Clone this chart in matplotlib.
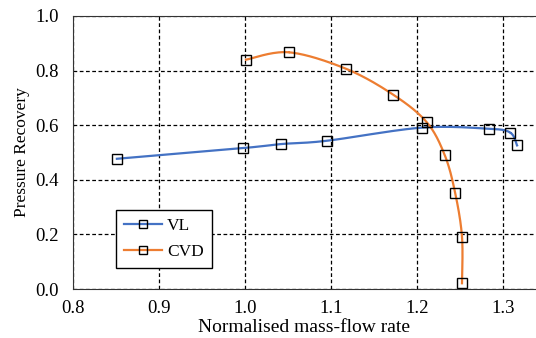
import numpy as np
import matplotlib.pyplot as plt

# data
vl_x = [0.851, 0.997, 1.042, 1.095, 1.205, 1.283, 1.308, 1.316]
vl_y = [0.477, 0.516, 0.531, 0.543, 0.591, 0.587, 0.573, 0.526]
cvd_x = [1.001, 1.051, 1.117, 1.172, 1.211, 1.232, 1.244, 1.252, 1.252]
cvd_y = [0.840, 0.867, 0.807, 0.712, 0.611, 0.490, 0.353, 0.192, 0.021]


def smooth(x, y, n=30):
    # Catmull-Rom curve through the points (like Excel's smoothed line)
    p = np.column_stack([x, y])
    p = np.vstack([p[0], p, p[-1]])
    out = []
    t = np.linspace(0, 1, n)[:, None]
    for i in range(1, len(p) - 2):
        p0, p1, p2, p3 = p[i - 1], p[i], p[i + 1], p[i + 2]
        seg = 0.5 * ((2 * p1) + (-p0 + p2) * t
                     + (2 * p0 - 5 * p1 + 4 * p2 - p3) * t ** 2
                     + (-p0 + 3 * p1 - 3 * p2 + p3) * t ** 3)
        out.append(seg)
    out = np.vstack(out)
    return out[:, 0], out[:, 1]


plt.rcParams['font.family'] = ['Liberation Serif']

fig = plt.figure(figsize=(5.36, 3.38), dpi=100)
ax = fig.add_axes([73 / 536, 49 / 338, 463 / 536, 273 / 338])

blue = '#4472C4'
orange = '#ED7D31'

sx, sy = smooth(vl_x, vl_y)
ax.plot(sx, sy, color=blue, lw=1.6)
sx, sy = smooth(cvd_x, cvd_y)
ax.plot(sx, sy, color=orange, lw=1.6)
ax.plot(vl_x, vl_y, ls='none', marker='s', ms=6.5, mfc='none', mec='black', mew=1.0)
ax.plot(cvd_x, cvd_y, ls='none', marker='s', ms=6.5, mfc='none', mec='black', mew=1.0)

# legend proxies
ax.plot([], [], color=blue, lw=1.6, marker='s', ms=6, mfc='none', mec='black', label='VL')
ax.plot([], [], color=orange, lw=1.6, marker='s', ms=6, mfc='none', mec='black', label='CVD')

ax.set_xlim(0.8, 1.338)
ax.set_ylim(0, 1.0)
ax.set_xticks([0.8, 0.9, 1.0, 1.1, 1.2, 1.3])
ax.set_yticks([0.0, 0.2, 0.4, 0.6, 0.8, 1.0])
ax.set_xticklabels(['0.8', '0.9', '1.0', '1.1', '1.2', '1.3'])
ax.set_yticklabels(['0.0', '0.2', '0.4', '0.6', '0.8', '1.0'])
ax.tick_params(axis='y', length=0, labelsize=13.5, pad=10)
ax.tick_params(axis='x', length=0, labelsize=13.5, pad=8)
ax.grid(True, color='black', ls=(0, (3, 2)), lw=0.9)
ax.spines['right'].set_visible(False)
for s in ['left', 'bottom', 'top']:
    ax.spines[s].set_color('#333333')

ax.set_xlabel('Normalised mass-flow rate', fontsize=14, labelpad=1)
ax.set_ylabel('Pressure Recovery', fontsize=12.5, labelpad=4)

leg = ax.legend(loc='lower left', bbox_to_anchor=(0.093, 0.077), fontsize=12.5,
                frameon=True, fancybox=False, edgecolor='black', framealpha=1,
                handlelength=2.2, handletextpad=0.3, borderpad=0.45,
                labelspacing=0.55, borderaxespad=0)
leg.get_frame().set_linewidth(1.0)

fig.savefig('out.png', dpi=100)
